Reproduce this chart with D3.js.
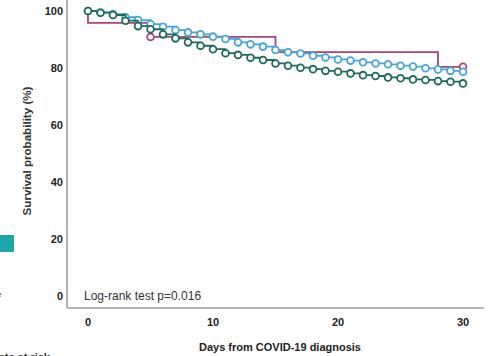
<!DOCTYPE html>
<html>
<head>
<meta charset="utf-8">
<script src="https://cdn.jsdelivr.net/npm/d3@7"></script>
<style>
body { margin: 0; background: #fff; }
text { font-family: "Liberation Sans", Arial, sans-serif; }
</style>
</head>
<body>
<div id="km"></div>
<script>
var width = 491, height = 356

// days with a mark (one per day)
var days = d3.range(0, 31)
// survival (%)
var blueSurv = [100, 99.5, 98.9, 97.8, 96.8, 95.4, 94.5, 93.3, 92.5, 91.8, 91.0,
    90.2, 89.0, 88.3, 87.5, 86.3, 85.5, 85.1, 84.3, 83.7, 83.0,
    82.6, 82.0, 81.6, 81.3, 80.8, 80.5, 79.9, 79.5, 79.0, 78.7]
var greenSurv = [100, 99.4, 98.6, 96.6, 94.7, 93.6, 91.8, 90.4, 89.0, 87.8, 86.6,
    85.2, 84.6, 83.6, 82.8, 81.6, 80.8, 80.1, 79.6, 79.0, 78.7,
    78.1, 77.5, 77.2, 76.7, 76.4, 76.0, 75.8, 75.4, 75.2, 74.6]
// small group: step times and levels
var magentaDays = [0, 0, 5, 15, 28, 30]
var magentaSurv = [100, 95.8, 90.9, 85.6, 80.4, 80.4]
var magentaMarks = [5, 30]

var xTicks = [0, 10, 20, 30]
var yTicks = [0, 20, 40, 60, 80, 100]

var svg = d3.select("#km").append("svg")
    .attr("width", width)
    .attr("height", height)

var x = d3.scaleLinear().domain([0, 30]).range([88, 463])
var y = d3.scaleLinear().domain([0, 100]).range([296, 11])

// axis frame
svg.append("line")
    .attr("x1", 67).attr("x2", 67).attr("y1", 0).attr("y2", 308)
    .attr("stroke", "#9a9a9a").attr("stroke-width", 1.5)
svg.append("line")
    .attr("x1", 67).attr("x2", 484).attr("y1", 308).attr("y2", 308)
    .attr("stroke", "#9a9a9a").attr("stroke-width", 1.5)

// tick labels
svg.selectAll(".ytick")
    .data(yTicks)
    .enter().append("text")
    .attr("class", "ytick")
    .attr("x", 63)
    .attr("y", function(d) { return y(d) + 4 })
    .attr("text-anchor", "end")
    .attr("font-size", 11)
    .attr("font-weight", "bold")
    .attr("fill", "#222")
    .text(function(d) { return d })

svg.selectAll(".xtick")
    .data(xTicks)
    .enter().append("text")
    .attr("class", "xtick")
    .attr("x", function(d) { return x(d) })
    .attr("y", 326)
    .attr("text-anchor", "middle")
    .attr("font-size", 11)
    .attr("font-weight", "bold")
    .attr("fill", "#222")
    .text(function(d) { return d })

svg.append("text")
    .attr("x", 280).attr("y", 351)
    .attr("text-anchor", "middle")
    .attr("font-size", 11)
    .attr("font-weight", "bold")
    .attr("fill", "#222")
    .text("Days from COVID-19 diagnosis")

svg.append("text")
    .attr("transform", "translate(31,151) rotate(-90)")
    .attr("text-anchor", "middle")
    .attr("font-size", 11.6)
    .attr("font-weight", "bold")
    .attr("fill", "#333")
    .text("Survival probability (%)")

svg.append("text")
    .attr("x", 84).attr("y", 300)
    .attr("font-size", 12)
    .attr("fill", "#333")
    .text("Log-rank test p=0.016")

// bits of the neighbouring panel that were cut off
svg.append("rect")
    .attr("x", 0).attr("y", 235).attr("width", 14).attr("height", 17)
    .attr("fill", "#1fa6a6")
svg.append("text")
    .attr("x", -5).attr("y", 298)
    .attr("font-size", 11).attr("font-weight", "bold").attr("fill", "#444")
    .text("e")
svg.append("text")
    .attr("x", -2).attr("y", 361)
    .attr("font-size", 11).attr("font-weight", "bold").attr("fill", "#333")
    .text("nts at risk")

var line = d3.line()
    .x(function(d) { return x(d[0]) })
    .y(function(d) { return y(d[1]) })
    .curve(d3.curveStepAfter)

// magenta curve
svg.append("path")
    .datum(magentaDays.map(function(d, i) { return [d, magentaSurv[i]] }))
    .attr("d", line)
    .attr("fill", "none")
    .attr("stroke", "#a8437c")
    .attr("stroke-width", 1.8)
svg.selectAll(".mmark")
    .data(magentaMarks)
    .enter().append("circle")
    .attr("class", "mmark")
    .attr("cx", function(d) { return x(d) })
    .attr("cy", function(d) {
        var i = d3.bisectRight(magentaDays, d) - 1
        return y(magentaSurv[i])
    })
    .attr("r", 3.4)
    .attr("fill", "#fff")
    .attr("stroke", "#a8437c")
    .attr("stroke-width", 1.8)

function drawGroup(vals, color) {
    var pts = days.map(function(d, i) { return [d, vals[i]] })
    svg.append("path")
        .datum(pts)
        .attr("d", line)
        .attr("fill", "none")
        .attr("stroke", color)
        .attr("stroke-width", 1.8)
    svg.append("g").selectAll("circle")
        .data(pts)
        .enter().append("circle")
        .attr("cx", function(d) { return x(d[0]) })
        .attr("cy", function(d) { return y(d[1]) })
        .attr("r", 3.4)
        .attr("fill", "#fff")
        .attr("stroke", color)
        .attr("stroke-width", 1.8)
}

drawGroup(blueSurv, "#45a5dc")
drawGroup(greenSurv, "#1f6b5b")
</script>
</body>
</html>
